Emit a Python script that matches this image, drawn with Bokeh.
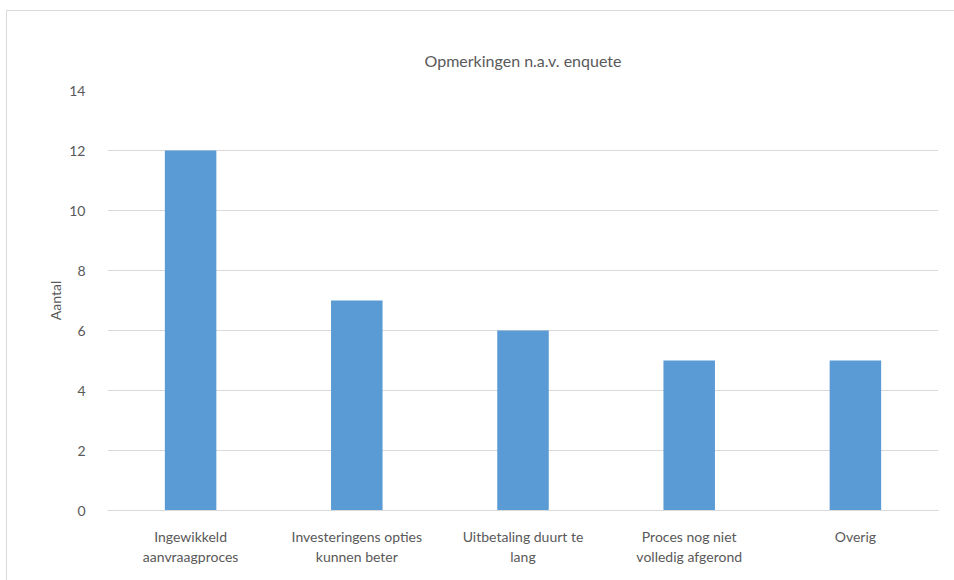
from bokeh.plotting import figure
from bokeh.models import ColumnDataSource, Range1d
from bokeh.embed import file_html
from bokeh.resources import INLINE

categories = ["Ingewikkeld\naanvraagproces", "Investeringens opties\nkunnen beter",
              "Uitbetaling duurt te\nlang", "Proces nog niet\nvolledig afgerond", "Overig"]
values = [12, 7, 6, 5, 5]
y_ticks = [0, 2, 4, 6, 8, 10, 12, 14]

FONT = "Lato"
TXT = "#595959"

src = ColumnDataSource(dict(cat=categories, val=values))

p = figure(x_range=categories, y_range=Range1d(0, 14), width=948, height=570,
           output_backend="svg", toolbar_location=None,
           min_border_left=100, min_border_right=17, min_border_top=79, min_border_bottom=71)
p.styles = {"border-left": "1px solid #d9d9d9", "border-top": "1px solid #d9d9d9",
            "margin-left": "6px", "margin-top": "10px"}
p.outline_line_color = None

p.vbar(x="cat", top="val", width=0.31, source=src, fill_color="#5B9BD5", line_color=None)

p.title.text = "Opmerkingen n.a.v. enquete"
p.title.align = "center"
p.title.vertical_align = "top"
p.title.text_font = FONT
p.title.text_font_size = "16px"
p.title.text_font_style = "normal"
p.title.text_color = TXT
p.title.standoff = 37

p.yaxis.ticker = y_ticks
p.yaxis.axis_line_color = None
p.yaxis.major_tick_line_color = None
p.yaxis.minor_tick_line_color = None
p.yaxis.major_label_text_font = FONT
p.yaxis.major_label_text_font_size = "14px"
p.yaxis.major_label_text_color = TXT
p.yaxis.major_label_standoff = 16
p.yaxis.axis_label = "Aantal"
p.yaxis.axis_label_text_font = FONT
p.yaxis.axis_label_text_font_size = "14px"
p.yaxis.axis_label_text_font_style = "normal"
p.yaxis.axis_label_text_color = TXT
p.yaxis.axis_label_standoff = 2

p.xaxis.axis_line_color = "#d9d9d9"
p.xaxis.major_tick_line_color = None
p.xaxis.minor_tick_line_color = None
p.xaxis.major_label_text_font = FONT
p.xaxis.major_label_text_font_size = "14px"
p.xaxis.major_label_text_color = TXT
p.xaxis.major_label_standoff = 11

p.xgrid.grid_line_color = None
p.ygrid.grid_line_color = "#d9d9d9"
p.ygrid.grid_line_width = 1

open("out.html", "w").write(file_html(p, INLINE))
